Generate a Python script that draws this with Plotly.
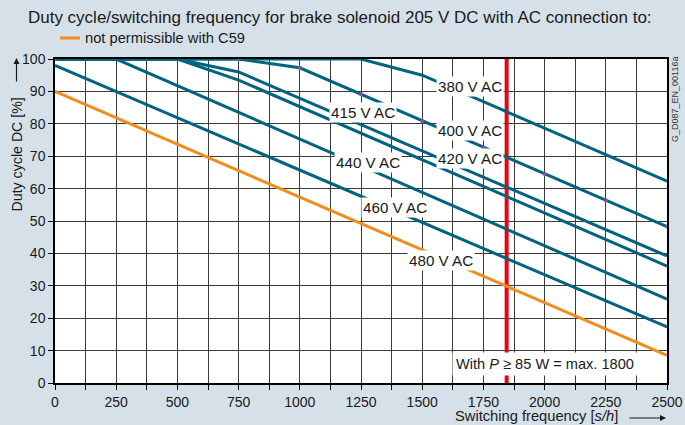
import plotly.graph_objects as go

# curves: switching frequency [s/h] -> duty cycle [%]
freq_380 = [0, 1250, 1500, 2500]
dc_380 = [100, 100, 95, 62.3]
freq_400 = [0, 750, 1000, 1250, 1500, 1750, 2000, 2250, 2500]
dc_400 = [100, 100, 97.3, 89.1, 80.9, 72.7, 64.5, 56.4, 48.3]
freq_415 = [0, 500, 750, 2500]
dc_415 = [100, 100, 96, 39.2]
freq_420 = [0, 500, 750, 2500]
dc_420 = [100, 100, 93.5, 36.1]
freq_440 = [0, 250, 2500]
dc_440 = [100, 100, 25.9]
freq_460 = [0, 2500]
dc_460 = [98, 17.3]
freq_480 = [0, 2500]  # not permissible with C59
dc_480 = [90, 8.5]

max_freq = 1845  # red limit line
x_ticks = [0, 250, 500, 750, 1000, 1250, 1500, 1750, 2000, 2250, 2500]
y_ticks = [0, 10, 20, 30, 40, 50, 60, 70, 80, 90, 100]

labels = ['380 V AC', '400 V AC', '415 V AC', '420 V AC', '440 V AC', '460 V AC', '480 V AC']
label_pos = [(1695, 91.4), (1695, 77.8), (1260, 83.6), (1695, 69.4), (1279, 68.2), (1389, 54.3), (1577, 37.7)]

BLUE = '#00637f'
ORANGE = '#f28c1c'
RED = '#e30613'
BG = '#d6e0e8'
GRID = '#3a3a3a'
INK = '#1a1a1a'
FONT = 'Arial, Liberation Sans, sans-serif'

fig = go.Figure()

# limit line first so curves sit on top
fig.add_trace(go.Scatter(x=[max_freq, max_freq], y=[0, 100], mode='lines',
                         line=dict(color=RED, width=4), hoverinfo='skip'))

for fx, fy in [(freq_380, dc_380), (freq_415, dc_415), (freq_420, dc_420),
               (freq_440, dc_440), (freq_460, dc_460)]:
    fig.add_trace(go.Scatter(x=fx, y=fy, mode='lines', line=dict(color=BLUE, width=3)))

fig.add_trace(go.Scatter(x=freq_400, y=dc_400, mode='lines+markers',
                         line=dict(color=BLUE, width=3),
                         marker=dict(color='#8a4f9e', size=4)))
fig.add_trace(go.Scatter(x=freq_480, y=dc_480, mode='lines', line=dict(color=ORANGE, width=3)))

# px -> paper helpers (plot area 55..667 x 59..383)
def px(x):
    return (x - 55) / 612

def py(y):
    return (383 - y) / 324

def note(x, y, text, **kw):
    d = dict(x=x, y=y, xref='paper', yref='paper', text=text, showarrow=False,
             xanchor='center', yanchor='middle', font=dict(size=14.7, color=INK))
    d.update(kw)
    return d

annotations = []
for txt, (lx, ly) in zip(labels, label_pos):
    annotations.append(dict(x=lx, y=ly, xref='x', yref='y', text=txt, showarrow=False,
                            xanchor='center', yanchor='middle',
                            bgcolor='white', borderpad=1, font=dict(size=15.2, color=INK)))

annotations += [
    dict(x=2002, y=5.9, xref='x', yref='y', text='With <i>P</i> ≥ 85 W = max. 1800',
         xanchor='center', yanchor='middle',
         showarrow=False, bgcolor='white', borderpad=3, font=dict(size=14.6, color=INK)),
    note(px(83), py(38), 'not permissible with C59', xanchor='left'),
    note(px(16.5), py(155), 'Duty cycle DC [%]', textangle=-90, font=dict(size=14.2, color=INK)),
    note(px(536), py(416), 'Switching frequency [<i>s/h</i>]'),
    note(px(675), py(100), 'G_D087_EN_00116a', textangle=-90, font=dict(size=9, color='#333333')),
    dict(x=px(16.5), y=py(58), xref='paper', yref='paper', text='', showarrow=True,
         ax=0, ay=25, arrowhead=2, arrowsize=1, arrowwidth=1.2, arrowcolor=INK),
    dict(x=px(666), y=py(418), xref='paper', yref='paper', text='', showarrow=True,
         ax=-38, ay=0, arrowhead=2, arrowsize=1, arrowwidth=1.2, arrowcolor=INK),
]

fig.update_layout(
    width=685, height=425,
    margin=dict(l=55, r=18, t=59, b=42),
    paper_bgcolor=BG, plot_bgcolor='white',
    showlegend=False,
    font=dict(family=FONT, size=14, color=INK),
    title=dict(text='Duty cycle/switching frequency for brake solenoid 205 V DC with AC connection to:',
               x=0.496, xanchor='center', y=(425 - 17) / 425, yanchor='middle',
               font=dict(size=17, color=INK)),
    annotations=annotations,
    shapes=[dict(type='line', xref='paper', yref='paper', x0=px(60), x1=px(80),
                 y0=py(38), y1=py(38), line=dict(color=ORANGE, width=3))],
)

fig.update_xaxes(range=[0, 2500], tickvals=x_ticks, showgrid=True, gridcolor=GRID, gridwidth=1,
                 ticks='outside', ticklen=5, tickcolor='black',
                 minor=dict(dtick=125, showgrid=True, gridcolor=GRID, gridwidth=1,
                            ticks='outside', ticklen=5, tickcolor='black'),
                 showline=True, linecolor='black', linewidth=1.5, mirror=True, automargin=False,
                 zeroline=False, layer='below traces', tickfont=dict(size=14))
fig.update_yaxes(range=[0, 100], tickvals=y_ticks, showgrid=True, gridcolor=GRID, gridwidth=1,
                 ticks='outside', ticklen=5, tickcolor='black',
                 showline=True, linecolor='black', linewidth=1.5, mirror=True, automargin=False,
                 zeroline=False, layer='below traces', tickfont=dict(size=14))

# the page body has a default 8px margin; drop it so the figure fills the window
fig.write_html("out.html", config={'displayModeBar': False},
               post_script="document.body.style.margin='0';")
